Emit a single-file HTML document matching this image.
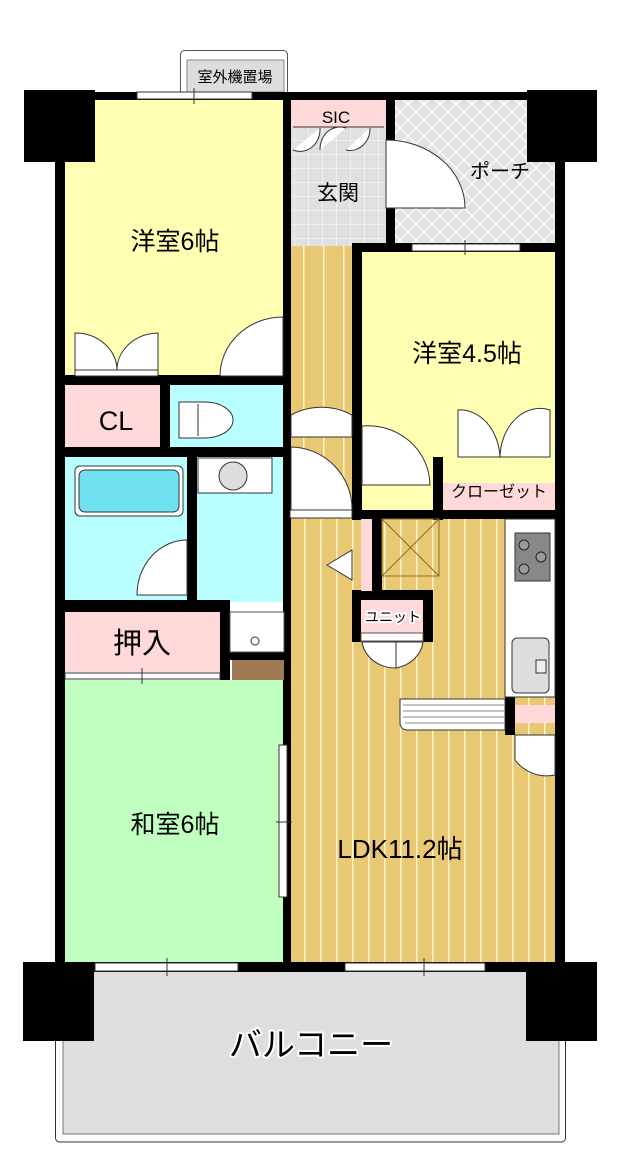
<!DOCTYPE html>
<html><head><meta charset="utf-8"><style>
html,body{margin:0;padding:0;background:#fff;}
svg{display:block;}
text{font-family:"Liberation Sans","Noto Sans CJK JP",sans-serif;fill:#000;}
.lb{stroke:#fff;stroke-width:4px;paint-order:stroke;stroke-linejoin:round;}
</style></head><body>
<svg width="620" height="1172" viewBox="0 0 620 1172" xmlns="http://www.w3.org/2000/svg">
<defs>
<pattern id="wood" width="16" height="10" patternUnits="userSpaceOnUse"><rect width="16" height="10" fill="#e8c872"/><rect x="0" width="1.5" height="10" fill="#fff3c4"/></pattern>
<pattern id="woodh" width="20" height="10" patternUnits="userSpaceOnUse" x="3"><rect width="20" height="10" fill="#e8c872"/><rect x="0" width="1.5" height="10" fill="#fff3c4"/></pattern>
<pattern id="tile" width="14" height="14" patternUnits="userSpaceOnUse"><rect width="14" height="14" fill="#e0e0e0"/><path d="M0 0H14M0 0V14" stroke="#fff" stroke-width="1"/></pattern>
<pattern id="hatch" width="16" height="16" patternUnits="userSpaceOnUse"><rect width="16" height="16" fill="#e2e2e2"/><path d="M0 0L16 16M16 0L0 16" stroke="#fff" stroke-width="1.2"/></pattern>
</defs>

<rect x="55.5" y="960" width="510" height="182" rx="4" fill="#fff" stroke="#333"/>
<rect x="63" y="970" width="496" height="164" fill="#dedede" stroke="#777"/>

<rect x="180.5" y="50.5" width="107" height="46" rx="4" fill="#fff" stroke="#555"/>
<rect x="187" y="60" width="97" height="32" fill="#ddd" stroke="#888"/>
<text x="235" y="82" font-size="15" text-anchor="middle">室外機置場</text>

<rect x="65" y="100" width="220" height="276" fill="#ffffb4"/>
<rect x="291" y="100" width="95" height="28" fill="#ffd9d9"/>
<rect x="291" y="128" width="95" height="118" fill="url(#tile)"/>
<rect x="395" y="95" width="165" height="150" fill="url(#hatch)"/>
<rect x="291" y="246" width="62" height="275" fill="url(#woodh)"/>
<rect x="362" y="252" width="193" height="260" fill="#ffffb4"/>
<rect x="443" y="483" width="112" height="28" fill="#ffd9d9"/>
<rect x="65" y="385" width="95" height="62" fill="#ffd9d9"/>
<rect x="170" y="385" width="114" height="63" fill="#b9ffff"/>
<rect x="65" y="457" width="124" height="145" fill="#b9ffff"/>
<rect x="197" y="457" width="87" height="145" fill="#b9ffff"/>
<rect x="65" y="612" width="155" height="60" fill="#ffd9d9"/>
<rect x="65" y="680" width="220" height="282" fill="#c0ffbf"/>
<rect x="291" y="519" width="264" height="443" fill="url(#wood)"/>

<g fill="#000">
<rect x="55" y="92" width="510" height="8"/>
<rect x="55" y="92" width="10" height="875"/>
<rect x="555" y="92" width="10" height="875"/>
<rect x="55" y="962" width="510" height="10"/>
<rect x="24" y="90" width="71" height="72"/>
<rect x="527" y="90" width="70" height="72"/>
<rect x="23" y="962" width="71" height="79"/>
<rect x="526" y="962" width="71" height="79"/>
<rect x="283" y="92" width="8" height="870"/>
<rect x="386" y="92" width="9" height="154"/>
<rect x="352" y="243" width="213" height="9"/>
<rect x="352" y="243" width="10" height="277"/>
<rect x="433" y="457" width="10" height="63"/>
<rect x="352" y="510" width="213" height="9"/>
<rect x="55" y="375" width="236" height="10"/>
<rect x="160" y="375" width="10" height="80"/>
<rect x="55" y="447" width="236" height="10"/>
<rect x="187" y="457" width="10" height="153"/>
<rect x="55" y="600" width="173" height="12"/>
<rect x="220" y="600" width="10" height="80"/>
<rect x="228" y="652" width="56" height="8"/>
<rect x="372" y="519" width="10" height="75"/>
<rect x="352" y="590" width="81" height="10"/>
<rect x="352" y="590" width="9" height="52"/>
<rect x="423" y="590" width="10" height="52"/>
<rect x="505" y="697" width="10" height="38"/>
</g>
<rect x="395" y="100" width="132" height="143" fill="url(#hatch)"/>
<rect x="527" y="162" width="28" height="81" fill="url(#hatch)"/>

<g fill="#fff" stroke="#333" stroke-width="1">
<rect x="137" y="92" width="115" height="7"/>
<rect x="412" y="244" width="108" height="7"/>
<rect x="95" y="963" width="143" height="8"/>
<rect x="345" y="963" width="140" height="8"/>
<rect x="65" y="673" width="155" height="6"/>
<rect x="279" y="745" width="8" height="152"/>
<rect x="290" y="510" width="62" height="8"/>
</g>
<g stroke="#333"><path d="M194 88V104M465 240V255M167 958V976M424 958V976M142 668V684M276 822H292"/></g>
<rect x="232" y="660" width="52" height="20" fill="#a07a55"/>
<rect x="230" y="612" width="54" height="40" fill="#fff" stroke="#555"/>
<circle cx="255" cy="641" r="4" fill="#fff" stroke="#333"/>

<g fill="#fff" stroke="#333" stroke-width="1">
<path d="M283 317V376H220A63 59 0 0 1 283 317Z"/>
<path d="M75 333V370H117A42 37 0 0 0 75 333Z"/>
<path d="M158 333V370H117A42 37 0 0 1 158 333Z"/>
<rect x="75" y="370" width="83" height="6"/>
<path d="M386 140V208H465A79 68 0 0 0 386 140Z"/>
<path d="M291 415A62 60 0 0 1 352 415V437H291Z"/>
<path d="M291 447A62 62 0 0 1 352 510H291Z"/>
<path d="M362 426A62 60 0 0 1 430 485H362Z"/>
<path d="M187 540A50 55 0 0 0 137 595H187Z"/>
<path d="M458 410A40 50 0 0 1 500 457H458Z"/>
<path d="M550 410A40 50 0 0 0 500 457H550Z"/>
<path d="M362 642H396V668A34 30 0 0 1 362 642Z"/>
<path d="M423 642H396V668A34 30 0 0 0 423 642Z"/>
<path d="M515 735V760A40 40 0 0 0 555 775V735Z"/>
<path d="M327 565L352 550V580Z"/>
<path d="M293 127H384M293 150A20 22 0 0 0 320 128M320 150A20 22 0 0 1 346 128M346 150A20 22 0 0 0 370 128"/>
</g>
<rect x="361" y="519" width="11" height="72" fill="#ffd9d9"/>
<rect x="361" y="600" width="62" height="33" fill="#ffd9d9"/>
<rect x="361" y="633" width="62" height="8" fill="#fff" stroke="#555"/>
<path d="M382 519H439V576H382ZM382 519L439 576M439 519L382 576" fill="none" stroke="#8a6b2a"/>

<rect x="75" y="466" width="108" height="50" rx="5" fill="#fff" stroke="#333"/>
<rect x="79" y="470" width="100" height="42" rx="6" fill="#6fe0f0" stroke="#333"/>
<rect x="198" y="458" width="74" height="35" fill="#fff" stroke="#333"/>
<ellipse cx="233" cy="476" rx="14" ry="14" fill="#ddd" stroke="#333"/>
<path d="M179 402H205A28 18 0 0 1 205 438H179Z" fill="#fff" stroke="#333"/>
<path d="M198 404V436" stroke="#333"/>

<rect x="505" y="519" width="50" height="178" fill="#fff" stroke="#333"/>
<rect x="515" y="533" width="35" height="48" fill="#888" stroke="#333"/>
<circle cx="524" cy="545" r="5" fill="#999" stroke="#222"/><circle cx="541" cy="557" r="5" fill="#999" stroke="#222"/><circle cx="524" cy="569" r="5" fill="#999" stroke="#222"/>
<rect x="512" y="638" width="37" height="55" rx="5" fill="#ddd" stroke="#333"/>
<rect x="536" y="660" width="10" height="13" fill="#eee" stroke="#333"/>
<rect x="515" y="705" width="40" height="18" fill="#ffd9d9"/>
<path d="M400 699H505V730H407A7 7 0 0 1 400 723Z" fill="#fff" stroke="#333"/>
<g stroke="#888"><path d="M403 705H505M403 711H505M403 717H505M405 723H505"/></g>

<text x="175" y="250" font-size="25" text-anchor="middle">洋室6帖</text>
<text x="336" y="123" font-size="17" text-anchor="middle">SIC</text>
<text x="338" y="200" font-size="21" text-anchor="middle">玄関</text>
<text x="500" y="178" font-size="20" text-anchor="middle">ポーチ</text>
<text x="467" y="362" font-size="25" text-anchor="middle">洋室4.5帖</text>
<text x="499" y="497" font-size="16" text-anchor="middle">クローゼット</text>
<text x="116" y="430" font-size="27" text-anchor="middle">CL</text>
<text x="142" y="653" font-size="29" text-anchor="middle">押入</text>
<text x="393" y="622" font-size="14" text-anchor="middle" class="lb">ユニット</text>
<text x="175" y="833" font-size="25" text-anchor="middle">和室6帖</text>
<text x="400" y="858" font-size="26" text-anchor="middle">LDK11.2帖</text>
<text x="311" y="1056" font-size="33" text-anchor="middle" class="lb">バルコニー</text>
</svg>
</body></html>
